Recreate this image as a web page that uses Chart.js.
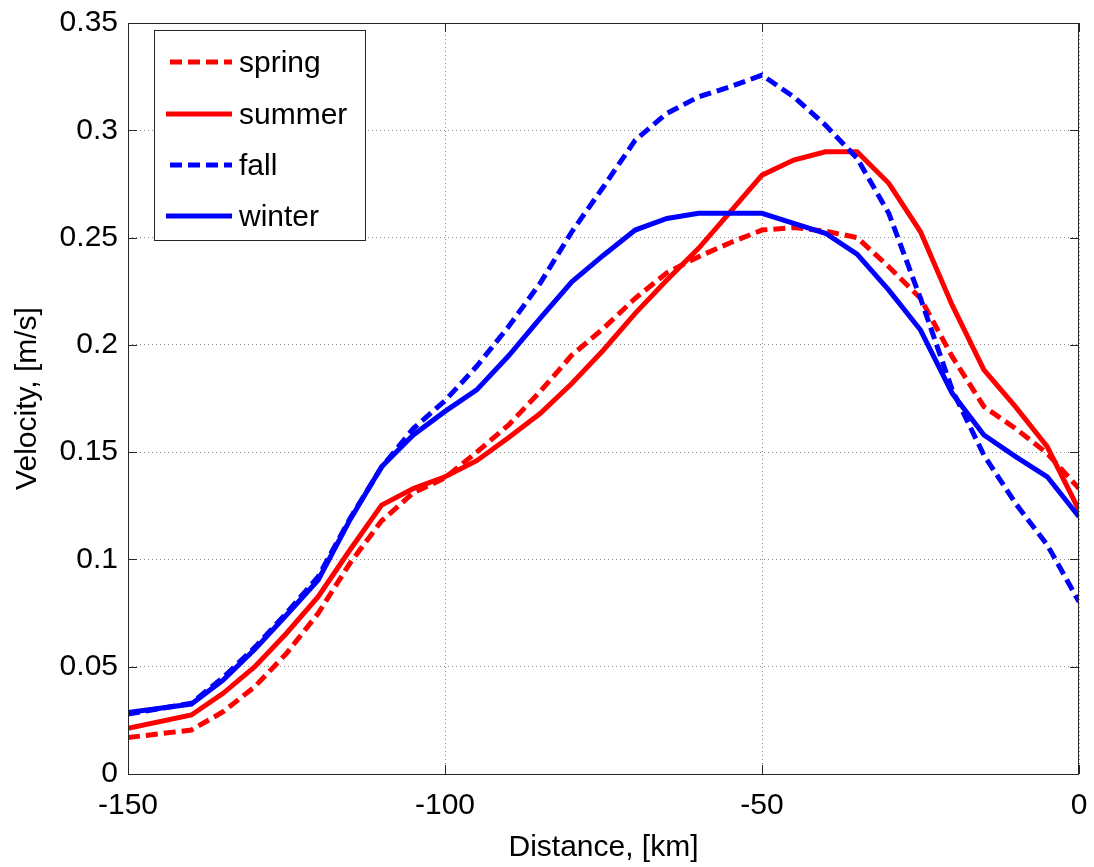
<!DOCTYPE html>
<html>
<head>
<meta charset="utf-8">
<script src="https://cdn.jsdelivr.net/npm/chart.js@4.4.1/dist/chart.umd.min.js"></script>
<style>
html,body{margin:0;padding:0;background:#fff;}
#wrap{width:1094px;height:867px;position:relative;}
</style>
</head>
<body>
<div id="wrap"><canvas id="c" width="1094" height="867"></canvas></div>
<script>
const distance = [-150,-140,-135,-130,-125,-120,-115,-110,-105,-100,-95,-90,-85,-80,-75,-70,-65,-60,-55,-50,-45,-40,-35,-30,-25,-20,-15,-10,-5,0];
const spring = [0.017,0.0205,0.029,0.0407,0.0562,0.0749,0.0982,0.118,0.131,0.138,0.150,0.1626,0.1782,0.1952,0.2077,0.2217,0.2336,0.2411,0.2476,0.2535,0.2547,0.253,0.25,0.2364,0.2217,0.1945,0.1712,0.161,0.1494,0.133];
const summer = [0.0213,0.0275,0.0376,0.050,0.0656,0.0826,0.1044,0.1253,0.133,0.1385,0.146,0.1567,0.168,0.182,0.1976,0.2147,0.2302,0.245,0.262,0.2791,0.2861,0.29,0.29,0.2753,0.2527,0.2185,0.1883,0.1711,0.1525,0.123];
const fall = [0.028,0.033,0.045,0.059,0.075,0.092,0.119,0.143,0.161,0.174,0.190,0.2084,0.2287,0.2527,0.2737,0.2954,0.3079,0.3156,0.3203,0.3257,0.3156,0.3024,0.2869,0.2613,0.2217,0.179,0.1486,0.1261,0.1067,0.0803];
const winter = [0.0286,0.0326,0.0438,0.0581,0.0741,0.0904,0.1184,0.1432,0.158,0.169,0.179,0.1948,0.2123,0.2294,0.2418,0.2535,0.2589,0.2613,0.2613,0.2613,0.2566,0.252,0.2423,0.2255,0.2069,0.1774,0.158,0.1479,0.1385,0.1199];
const seriesNames = ['spring','summer','fall','winter'];
const xTicks = [-150,-100,-50,0];
const yTicks = [0,0.05,0.1,0.15,0.2,0.25,0.3,0.35];

const FONT = "'Liberation Sans', Arial, Helvetica, sans-serif";
function pts(vals){ return distance.map((d,i)=>({x:d,y:vals[i]})); }

const dash = [12,6];
const datasets = [
  {label:seriesNames[0], data:pts(spring), borderColor:'#ff0000', borderDash:dash, order:4},
  {label:seriesNames[1], data:pts(summer), borderColor:'#ff0000', borderDash:[], order:3},
  {label:seriesNames[2], data:pts(fall), borderColor:'#0000ff', borderDash:dash, order:2},
  {label:seriesNames[3], data:pts(winter), borderColor:'#0000ff', borderDash:[], order:1}
].map(d=>Object.assign(d,{borderWidth:5,pointRadius:0,fill:false,tension:0,borderJoinStyle:'miter',borderCapStyle:'butt'}));

const L=128, T=23, R=1079, B=774;

function zeroPad(s){ s.paddingTop=0; s.paddingBottom=0; s.paddingLeft=0; s.paddingRight=0; }

const framePlugin = {
  id:'frame',
  afterDraw(chart){
    const ctx=chart.ctx, a=chart.chartArea;
    const xs=chart.scales.x, ys=chart.scales.y;
    ctx.save();
    ctx.strokeStyle='#262626';
    ctx.lineWidth=1;
    ctx.strokeRect(a.left+0.5,a.top+0.5,a.right-a.left-1,a.bottom-a.top);
    const tl=9;
    ctx.beginPath();
    xTicks.forEach(v=>{
      const px=Math.round(xs.getPixelForValue(v))+0.5;
      ctx.moveTo(px,a.bottom); ctx.lineTo(px,a.bottom-tl);
      ctx.moveTo(px,a.top); ctx.lineTo(px,a.top+tl);
    });
    yTicks.forEach(v=>{
      const py=Math.round(ys.getPixelForValue(v))+0.5;
      ctx.moveTo(a.left,py); ctx.lineTo(a.left+tl,py);
      ctx.moveTo(a.right,py); ctx.lineTo(a.right-tl,py);
    });
    ctx.stroke();
    // legend
    const lx=154, ly=30, lw=211, lh=210;
    ctx.fillStyle='#fff';
    ctx.fillRect(lx,ly,lw,lh);
    ctx.strokeStyle='#262626';
    ctx.strokeRect(lx+0.5,ly+0.5,lw,lh);
    const rows=[62,114,165,216];
    chart.data.datasets.forEach((ds,i)=>{
      const y=rows[i];
      ctx.beginPath();
      ctx.strokeStyle=ds.borderColor;
      ctx.lineWidth=5;
      ctx.setLineDash(ds.borderDash||[]);
      const x0 = (ds.borderDash&&ds.borderDash.length)?170:166;
      ctx.moveTo(x0,y); ctx.lineTo(232,y);
      ctx.stroke();
      ctx.setLineDash([]);
      ctx.fillStyle='#000';
      ctx.font='30px '+FONT;
      ctx.textBaseline='middle';
      ctx.textAlign='left';
      ctx.fillText(ds.label,239,y+2);
    });
    ctx.restore();
  }
};

new Chart(document.getElementById('c'),{
  type:'line',
  data:{datasets},
  options:{
    responsive:false,
    animation:false,
    events:[],
    layout:{padding:{left:0,top:T,right:1094-R,bottom:0}},
    plugins:{legend:{display:false},tooltip:{enabled:false}},
    scales:{
      x:{
        type:'linear',min:-150,max:0,
        afterFit(s){s.height=867-B; zeroPad(s);},
        afterBuildTicks(s){s.ticks=xTicks.map(v=>({value:v}));},
        ticks:{color:'#000',font:{family:FONT,size:30},padding:14,maxRotation:0,autoSkip:false,
          callback:v=>String(v)},
        grid:{color:'#8c8c8c',drawTicks:false,lineWidth:1},
        border:{display:false,dash:[1,3]},
        title:{display:true,text:'Distance, [km]',color:'#000',font:{family:FONT,size:30},padding:{top:0,bottom:1}}
      },
      y:{
        type:'linear',min:0,max:0.35,
        afterFit(s){s.width=L; zeroPad(s);},
        afterBuildTicks(s){s.ticks=yTicks.map(v=>({value:v}));},
        ticks:{color:'#000',font:{family:FONT,size:30},padding:10,autoSkip:false,
          callback:v=>String(Math.round(v*100)/100)},
        grid:{color:'#8c8c8c',drawTicks:false,lineWidth:1},
        border:{display:false,dash:[1,3]},
        title:{display:true,text:'Velocity, [m/s]',color:'#000',font:{family:FONT,size:30},padding:{top:10,bottom:0}}
      }
    }
  },
  plugins:[framePlugin]
});
</script>
</body>
</html>
